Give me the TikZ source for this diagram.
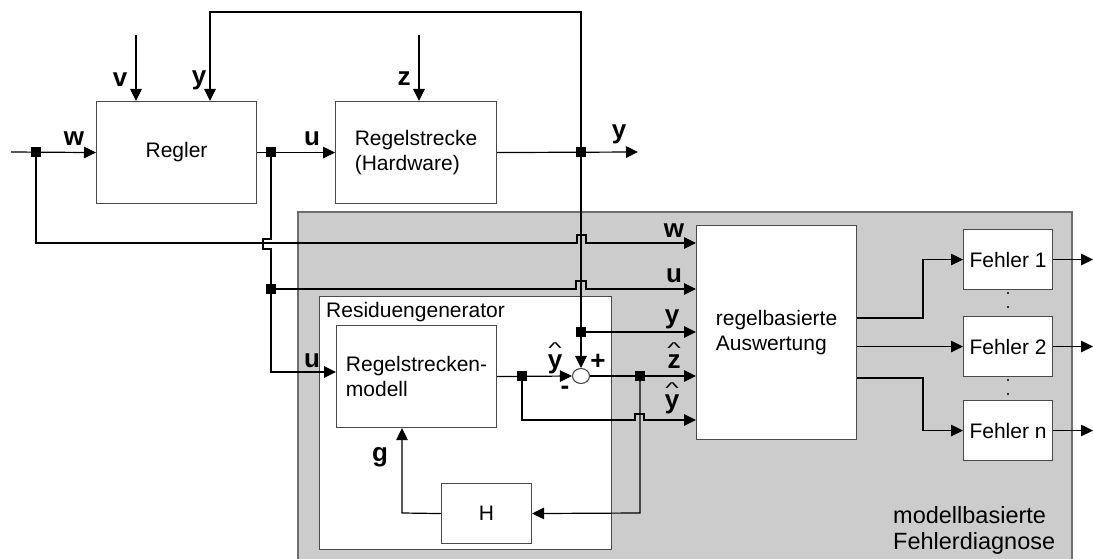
\documentclass[tikz,border=0pt]{standalone}
\usepackage{fontspec}
\setmainfont{Liberation Sans}
\usetikzlibrary{arrows.meta,positioning,calc,shapes.geometric}
\definecolor{panelgray}{HTML}{CCCCCC}
\definecolor{paneledge}{HTML}{6E6E6E}
\definecolor{boxedge}{HTML}{4A4A4A}
\newcommand{\hatlbl}[1]{\ooalign{#1\cr\hidewidth\raisebox{15pt}{\fontseries{m}\selectfont\scalebox{1.1}[0.6]{\textasciicircum}}\hidewidth\cr}}

\begin{document}
\begin{tikzpicture}[x=1pt,y=-1pt,
  every node/.style={font=\fontsize{21}{24.5}\selectfont},
  block/.style={draw=boxedge,fill=white,line width=1.1pt,inner sep=0pt,anchor=north west},
  wire/.style={line width=1.2pt},
  sig/.style={line width=1.2pt,-{Triangle[length=12pt,width=11.5pt]}},
  lbl/.style={font=\fontsize{26}{26}\selectfont\bfseries,inner sep=0pt,anchor=base}]
  \useasboundingbox (0,0) rectangle (1093,559);

  \fill[panelgray] (298,212) rectangle (1072,562);
  \draw[paneledge,line width=1.6pt] (298,562) -- (298,212) -- (1072,212) -- (1072,562);

  \node[block,minimum width=160pt,minimum height=102pt] (regler) at (96,101) {Regler};
  \node[block,minimum width=161pt,minimum height=102pt,align=left] (plant) at (335,101)
    {Regelstrecke\\(Hardware)};
  \node[block,minimum width=292pt,minimum height=253pt] (resgen) at (319,296) {};
  \node[anchor=north west,inner sep=0pt] (reslbl) at (326,302) {Residuengenerator};
  \node[block,minimum width=160pt,minimum height=102pt,align=left] (model) at (336,325)
    {Regelstrecken-\\modell};
  \node[block,minimum width=90pt,minimum height=60pt] (hblock) at (441,483) {H};
  \node[draw=boxedge,fill=white,ellipse,minimum width=17pt,minimum height=15pt,inner sep=0pt,
    line width=1.1pt] (sum) at (581,376) {};
  \node[block,minimum width=160pt,minimum height=214pt,align=left] (eval) at (696,225)
    {regelbasierte\\Auswertung};
  \node[block,minimum width=89pt,minimum height=60pt] (f1) at (963,229) {Fehler 1};
  \node[block,minimum width=89pt,minimum height=60pt] (f2) at (963,316) {Fehler 2};
  \node[block,minimum width=89pt,minimum height=60pt] (fn) at (963,400) {Fehler n};
  \node[anchor=north west,inner sep=0pt,align=left,font=\fontsize{23.5}{26}\selectfont]
    (diaglbl) at (893,506) {modellbasierte\\Fehlerdiagnose};

  \coordinate (win) at (11,152);
  \coordinate (jw) at (36,152);
  \coordinate (wbend) at (36,243);
  \coordinate (vin) at (136,35);
  \coordinate (zin) at (419,35);
  \coordinate (yfb) at (210,12);
  \coordinate (ytop) at (581,12);
  \coordinate (ju) at (271,152);
  \coordinate (jy) at (581,152);
  \coordinate (yout) at (638,152);
  \coordinate (ju2) at (271,289);
  \coordinate (ubend) at (271,372);
  \coordinate (jy2) at (581,332);
  \coordinate (jm) at (522,376);
  \coordinate (mbend) at (522,420);
  \coordinate (jz) at (640,376);
  \coordinate (zbend) at (640,513);
  \coordinate (gbend) at (402,513);
  \coordinate (e1) at (923,318);
  \coordinate (e3) at (923,378);
  \coordinate (redge) at (1093,0);

  \draw[sig] (win) -- (regler.west);
  \draw[sig] (vin) -- (vin |- regler.north);
  \draw[sig] (zin) -- (zin |- plant.north);
  \draw[sig] (regler.east) -- (plant.west);
  \draw[sig] (plant.east) -- (yout);
  \draw[sig] (jy) -- (ytop) -- (yfb) -- (yfb |- regler.north);
  \draw[sig] (jy) -- (jy2) -- (sum.north);
  \draw[sig] (jw) -- (wbend) -- ++(541,0) -- ++(0,-8) -- ++(9,0) -- ++(0,8) -- (eval.west |- wbend);
  \draw[wire] (ju) -- ++(0,87) -- ++(-8,0) -- ++(0,10) -- ++(8,0) -- (ju2);
  \draw[sig] (ju2) -- (ubend) -- (model.west |- ubend);
  \draw[sig] (ju2) -- ++(305,0) -- ++(0,-8) -- ++(10,0) -- ++(0,8) -- (eval.west |- ju2);
  \draw[sig] (jy2) -- (eval.west |- jy2);
  \draw[sig] (model.east) -- (sum.west);
  \draw[sig] (sum.east) -- (eval.west |- jz);
  \draw[sig] (jm) -- (mbend) -- ++(113,0) -- ++(0,-6) -- ++(9,0) -- ++(0,6) -- (eval.west |- mbend);
  \draw[sig] (jz) -- (zbend) -- (hblock.east);
  \draw[sig] (hblock.west) -- (gbend) -- (gbend |- model.south);
  \draw[sig] (eval.east |- e1) -- (e1) |- (f1.west);
  \draw[sig] (eval.east |- f2.west) -- (f2.west);
  \draw[sig] (eval.east |- e3) -- (e3) |- (fn.west);
  \foreach \f in {f1,f2,fn}
    \draw[sig] (\f.east) -- (\f.east -| redge);

  \foreach \j in {jw,ju,jy,ju2,jy2,jm,jz}
    \fill (\j) +(-5,-5) rectangle +(5,5);
  \foreach \yy in {293,307,380,394}
    \fill (1008,\yy) circle (1.2);

  \node[lbl] (lw) at (74,146) {w};
  \node[lbl] (lv) at (120,87) {v};
  \node[lbl] (ly) at (199,85) {y};
  \node[lbl] (lu) at (312,146) {u};
  \node[lbl] (lz) at (404,86) {z};
  \node[lbl] (lyout) at (619,139) {y};
  \node[lbl] (lwe) at (674,237) {w};
  \node[lbl] (lue) at (674,282) {u};
  \node[lbl] (lye) at (672,323) {y};
  \node[lbl] (lze) at (674,368) {\hatlbl{z}};
  \node[lbl] (lyhe) at (672,408) {\hatlbl{y}};
  \node[lbl] (lyhs) at (555,368) {\hatlbl{y}};
  \node[lbl,anchor=center] (lplus) at (598,362) {+};
  \node[lbl,anchor=center] (lminus) at (565,390) {-};
  \node[lbl] (lum) at (312,367) {u};
  \node[lbl] (lg) at (380,461) {g};
\end{tikzpicture}
\end{document}
